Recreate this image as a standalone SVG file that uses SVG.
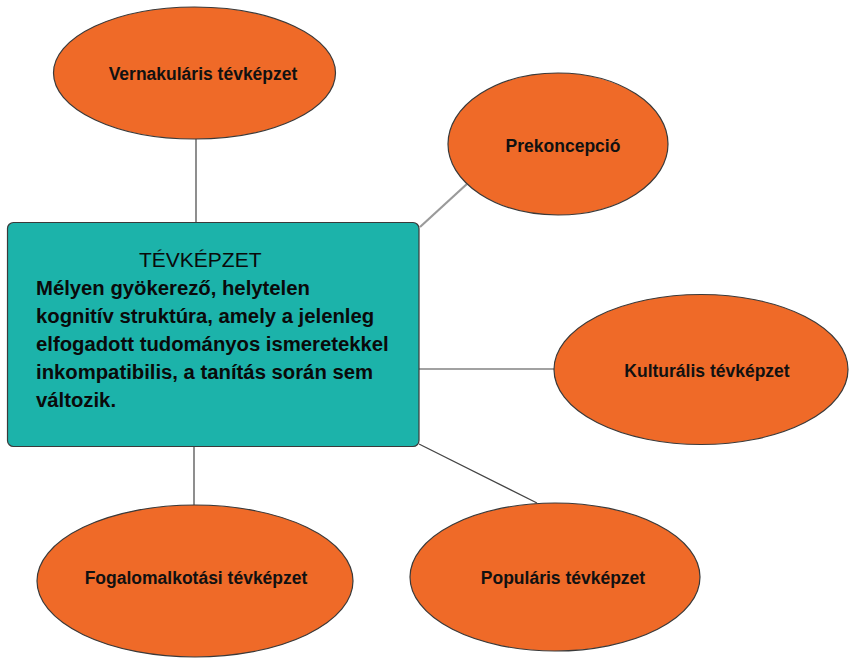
<svg xmlns="http://www.w3.org/2000/svg" width="851" height="658" viewBox="0 0 851 658">
<style>
.ell{fill:#EF6A28;stroke:#3a3a3a;stroke-width:1.2}
.lbl{font-family:"Liberation Sans",Arial,sans-serif;font-weight:bold;font-size:17.5px;fill:#111;text-anchor:middle}
.body{font-family:"Liberation Sans",Arial,sans-serif;font-weight:bold;font-size:20.3px;fill:#0a0a0a}
.title{font-family:"Liberation Sans",Arial,sans-serif;font-size:21px;fill:#0a0a0a}
.con{stroke:#444;stroke-width:1.2;fill:none}
</style>
<rect width="851" height="658" fill="#ffffff"/>
<g id="connectors">
<line class="con" x1="196" y1="139" x2="196" y2="222"/>
<line x1="420" y1="227" x2="468" y2="183" stroke="#9a9a9a" stroke-width="2.2"/>
<line class="con" x1="419" y1="369" x2="554" y2="369"/>
<line class="con" x1="194" y1="447" x2="194" y2="506"/>
<line class="con" x1="419" y1="444" x2="537" y2="503"/>
</g>
<g id="center">
<rect x="7.5" y="222.5" width="411.5" height="224" rx="6" ry="6" fill="#1CB3AA" stroke="#3a3a3a" stroke-width="1.2"/>
<text class="title" x="139" y="267">TÉVKÉPZET</text>
<text class="body" x="36" y="295">Mélyen gyökerező, helytelen</text>
<text class="body" x="36" y="323">kognitív struktúra, amely a jelenleg</text>
<text class="body" x="36" y="351">elfogadott tudományos ismeretekkel</text>
<text class="body" x="36" y="379">inkompatibilis, a tanítás során sem</text>
<text class="body" x="36" y="407">változik.</text>
</g>
<g id="vernakularis">
<ellipse class="ell" cx="194.5" cy="73" rx="141" ry="66"/>
<text class="lbl" x="203" y="80">Vernakuláris tévképzet</text>
</g>
<g id="prekoncepcio">
<ellipse class="ell" cx="558" cy="144" rx="110" ry="71"/>
<text class="lbl" x="563" y="152">Prekoncepció</text>
</g>
<g id="kulturalis">
<ellipse class="ell" cx="701" cy="369.5" rx="147" ry="75"/>
<text class="lbl" x="707" y="377">Kulturális tévképzet</text>
</g>
<g id="fogalomalkotasi">
<ellipse class="ell" cx="195" cy="581" rx="158" ry="76"/>
<text class="lbl" x="196" y="584">Fogalomalkotási tévképzet</text>
</g>
<g id="popularis">
<ellipse class="ell" cx="555" cy="577" rx="145" ry="74"/>
<text class="lbl" x="563" y="584">Populáris tévképzet</text>
</g>
</svg>
